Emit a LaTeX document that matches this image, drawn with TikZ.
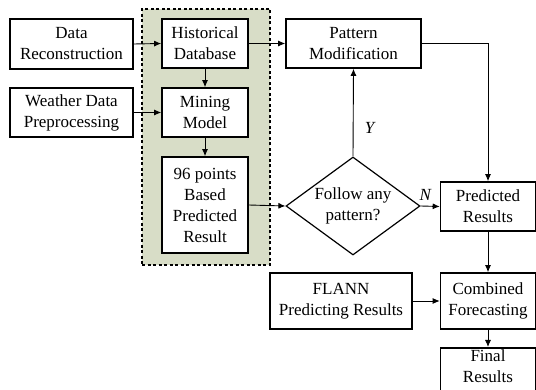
\documentclass[tikz,border=0pt]{standalone}
\usepackage{fontspec}
\setmainfont{Liberation Serif}
\usetikzlibrary{arrows.meta,shapes.geometric}
\definecolor{groupfill}{RGB}{216,221,199}
\begin{document}
\begin{tikzpicture}[x=1pt,y=-1pt,
  box/.style={draw,line width=1.6pt,fill=white,inner sep=0pt,
    align=center,font=\fontsize{17}{21}\selectfont},
  conn/.style={line width=0.9pt,-{Latex[length=7pt,width=6pt]}},
  lbl/.style={font=\fontsize{17}{21}\selectfont\itshape}]
\useasboundingbox (0,0) rectangle (536,390);
\clip (0,0) rectangle (536,390);
% group
\node[draw,fill=groupfill,line width=1.6pt,dash pattern=on 3pt off 2.5pt,
  minimum width=128pt,minimum height=256pt,inner sep=0pt] (grp) at (206,137) {};
% left boxes
\node[box,minimum width=123pt,minimum height=50pt] (dr) at (71.5,44) {Data\\Reconstruction};
\node[box,minimum width=123pt,minimum height=49pt] (wd) at (71.5,112.5) {Weather Data\\Preprocessing};
% group boxes
\node[box,minimum width=86pt,minimum height=49pt] (hd) at (205,43.5) {Historical\\Database};
\node[box,minimum width=86pt,minimum height=49pt] (mm) at (205,112.5) {Mining\\Model};
\node[box,minimum width=86pt,minimum height=96pt] (pr96) at (205,205) {96 points\\Based\\Predicted\\Result};
% right part
\node[box,minimum width=135pt,minimum height=49pt] (pm) at (353.5,43.5) {Pattern\\Modification};
\node[draw,line width=1.2pt,diamond,aspect=1.37,inner sep=0pt,minimum width=134pt,minimum height=98pt,
  align=center,font=\fontsize{17}{21}\selectfont] (dia) at (353,206) {};
\node[align=center,font=\fontsize{17}{21}\selectfont] (diat) at (353,206) {Follow any\\pattern?};
\node[box,minimum width=95pt,minimum height=49pt] (pres) at (488,206.5) {Predicted\\Results};
\node[box,minimum width=142pt,minimum height=56pt] (fl) at (341,301) {FLANN\\Predicting Results};
\node[box,minimum width=95pt,minimum height=56pt] (cf) at (488,301) {Combined\\Forecasting};
\node[box,minimum width=95pt,minimum height=56pt,anchor=north,text depth=20pt] (fr) at (488,347) {Final\\Results};
% connectors
\draw[conn] (dr.east) -- (hd.west);
\draw[conn] (wd.east) -- (mm.west);
\draw[conn] (hd.south) -- (mm.north);
\draw[conn] (mm.south) -- (pr96.north);
\draw[conn] (hd.east) -- (pm.west);
\draw[conn] (pr96.east) -- (dia.west);
\draw[conn] (dia.north) -- node[lbl,right=8pt,pos=0.33] (ylab) {Y} (pm.south);
\draw[conn] (dia.east) -- node[lbl,above=2pt,pos=0.25] (nlab) {N} (pres.west);
\coordinate (pmc) at (pres.north |- pm.east);
\draw[conn] (pm.east) -- (pmc) -- (pres.north);
\draw[conn] (pres.south) -- (cf.north);
\draw[conn] (fl.east) -- (cf.west);
\draw[conn] (cf.south) -- (fr.north);
\end{tikzpicture}
\end{document}
